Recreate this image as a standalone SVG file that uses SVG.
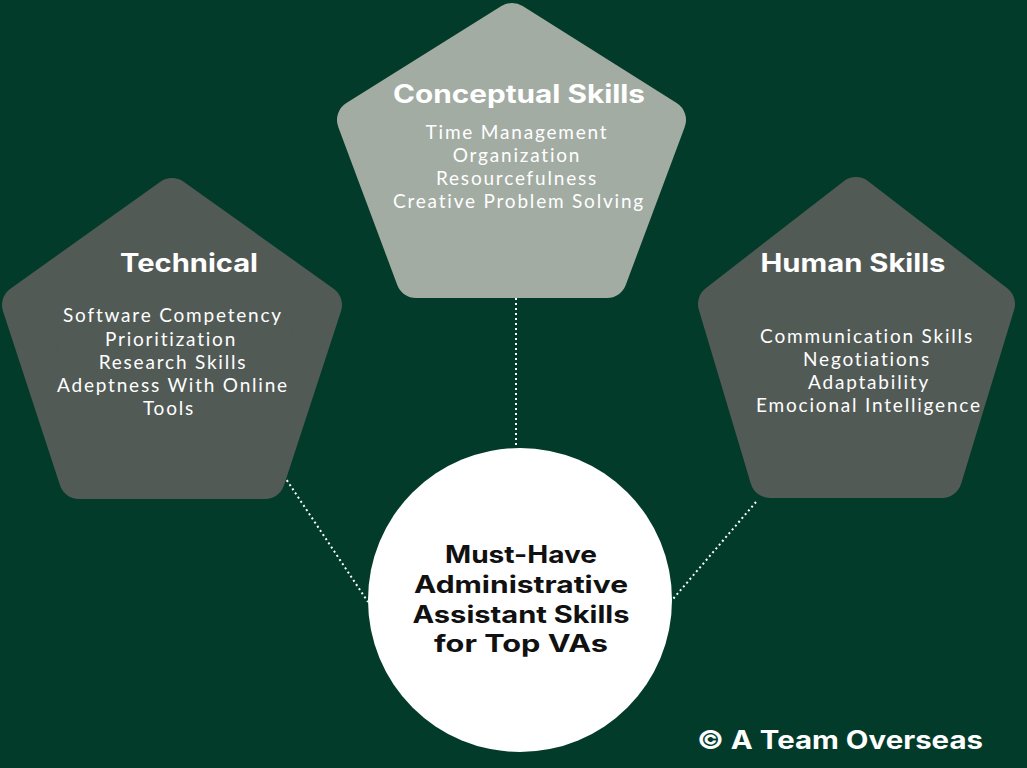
<svg xmlns="http://www.w3.org/2000/svg" width="1027" height="768" viewBox="0 0 1027 768">
<style>
.bg{fill:#023b2a}
.pent-light{fill:#a3aca3;stroke:#a3aca3;stroke-width:40;stroke-linejoin:round}
.pent-dark{fill:#525a56;stroke:#525a56;stroke-width:40;stroke-linejoin:round}
.title{font-family:Inter,"Liberation Sans",sans-serif;font-weight:700;font-size:25px;fill:#ffffff;text-anchor:middle}
.item{font-family:Lato,"Noto Sans",sans-serif;font-size:19px;letter-spacing:1.8px;fill:#ffffff;text-anchor:middle}
.center{font-family:Inter,"Liberation Sans",sans-serif;font-weight:700;font-size:24px;fill:#111111;text-anchor:middle}
.conn{stroke:#ffffff;stroke-width:2;stroke-dasharray:2 3;fill:none}
</style>
<rect class="bg" x="0" y="0" width="1027" height="768"/>
<g id="connectors">
<line class="conn" x1="516" y1="298" x2="516" y2="448"/>
<line class="conn" x1="284" y1="476" x2="368" y2="602"/>
<line class="conn" x1="756" y1="502" x2="673" y2="599"/>
</g>
<g id="node-conceptual">
<polygon class="pent-light" points="512,23 666,120 607,278 416,278 357,120"/>
<text class="title" x="519" y="103" textLength="252" lengthAdjust="spacingAndGlyphs">Conceptual Skills</text>
<text class="item" x="517" y="139">Time Management</text>
<text class="item" x="517" y="162">Organization</text>
<text class="item" x="517" y="185">Resourcefulness</text>
<text class="item" x="519" y="208">Creative Problem Solving</text>
</g>
<g id="node-technical">
<polygon class="pent-dark" points="172,198 322,305 265,479 79,479 22,305"/>
<text class="title" x="189" y="272" textLength="138" lengthAdjust="spacingAndGlyphs">Technical</text>
<text class="item" x="173" y="322">Software Competency</text>
<text class="item" x="171" y="346">Prioritization</text>
<text class="item" x="173" y="369">Research Skills</text>
<text class="item" x="173" y="392">Adeptness With Online</text>
<text class="item" x="169" y="415">Tools</text>
</g>
<g id="node-human">
<polygon class="pent-dark" points="856,197 995,304 942,478 770,478 718,304"/>
<text class="title" x="853" y="272" textLength="185" lengthAdjust="spacingAndGlyphs">Human Skills</text>
<text class="item" x="867" y="343">Communication Skills</text>
<text class="item" x="867" y="366">Negotiations</text>
<text class="item" x="869" y="389">Adaptability</text>
<text class="item" x="869" y="412">Emocional Intelligence</text>
</g>
<g id="node-center">
<circle cx="520" cy="600" r="152" fill="#ffffff"/>
<text class="center" x="521" y="563" textLength="152" lengthAdjust="spacingAndGlyphs">Must-Have</text>
<text class="center" x="521" y="593" textLength="214" lengthAdjust="spacingAndGlyphs">Administrative</text>
<text class="center" x="521" y="623" textLength="217" lengthAdjust="spacingAndGlyphs">Assistant Skills</text>
<text class="center" x="521" y="652" textLength="174" lengthAdjust="spacingAndGlyphs">for Top VAs</text>
</g>
<g id="copyright">
<text class="title" x="840" y="749" textLength="286" lengthAdjust="spacingAndGlyphs">© A Team Overseas</text>
</g>
</svg>
